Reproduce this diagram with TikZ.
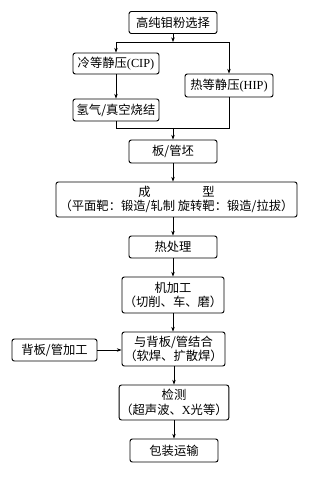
\documentclass[tikz,border=0pt]{standalone}
\usepackage{fontspec}
\setmainfont{Liberation Serif}
\newfontfamily\cjk{Noto Sans CJK SC}
\usetikzlibrary{arrows.meta}

\begin{document}
\begin{tikzpicture}[
    x=0.03cm, y=-0.03cm,
    block/.style={rectangle, draw, rounded corners=2pt, line width=0.8pt, minimum width=2.64cm, minimum height=0.66cm, align=center, inner sep=1pt, font=\cjk\fontsize{10.5}{12.5}\selectfont},
    wide/.style={block, minimum width=3.06cm, minimum height=1.05cm},
    arrow/.style={-{Stealth[length=4pt, width=3pt]}, line width=0.5pt},
    line/.style={line width=0.5pt}
]
\useasboundingbox (0,0) rectangle (326,480);

% Powder selection
\node[block] (powder) at (173,22.5) {高纯钼粉选择};

% Cold isostatic pressing
\node[block, minimum width=2.58cm, minimum height=0.63cm] (cip) at (116,63.5) {冷等静压{\rmfamily(CIP)}};

% Hot isostatic pressing
\node[block, minimum height=0.69cm] (hip) at (229,85.5) {热等静压{\rmfamily(HIP)}};

% Sintering
\node[block, minimum width=2.58cm] (sinter) at (116,110) {氢气/真空烧结};

% Billet
\node[block, minimum height=0.69cm] (billet) at (173,151.5) {板/管坯};

% Forming
\node[block, minimum width=7.23cm, minimum height=1.05cm] (forming) at (176.5,199.5) {成\hspace{4.2em}型\\（平面靶：锻造/轧制 旋转靶：锻造/拉拔）};

% Heat treatment
\node[block] (heat) at (173,247) {热处理};

% Machining
\node[wide, minimum height=1.08cm] (machine) at (173,295) {机加工\\（切削、车、磨）};

% Bonding
\node[wide, minimum width=3.09cm, minimum height=1.02cm] (bond) at (173.5,349) {与背板/管结合\\（软焊、扩散焊）};

% Backing plate
\node[block, minimum width=2.55cm] (backing) at (54.5,350) {背板/管加工};

% Inspection
\node[wide] (inspect) at (174,402.5) {检测\\（超声波、{\rmfamily X}光等）};

% Packing
\node[block, minimum height=0.69cm] (pack) at (174,450.5) {包装运输};

% Split and merge points
\coordinate (split) at (173,42);
\coordinate (merge) at (173,128);

% Arrows - upper branch
\draw[arrow] (powder) -- (split);
\draw[arrow] (split) -| (cip);
\draw[arrow] (split) -| (hip);
\draw[arrow] (cip) -- (sinter);
\draw[line] (sinter) |- (merge);
\draw[line] (hip) |- (merge);
\draw[arrow] (merge) -- (billet);

% Arrows - main path
\draw[arrow] (billet) -- (billet |- forming.north);
\draw[arrow] (heat |- forming.south) -- (heat);
\draw[arrow] (heat) -- (machine);
\draw[arrow] (machine) -- (machine |- bond.north);
\draw[arrow] (backing) -- (backing -| bond.west);
\draw[arrow] (inspect |- bond.south) -- (inspect);
\draw[arrow] (inspect) -- (pack);

\end{tikzpicture}
\end{document}
